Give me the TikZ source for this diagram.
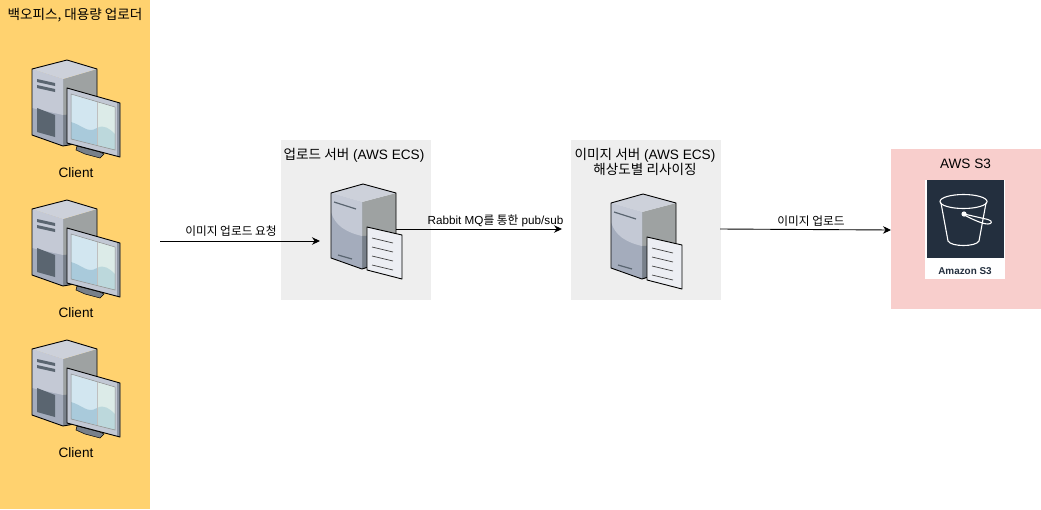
\documentclass[tikz,border=0pt]{standalone}
\usepackage{fontspec}
\setmainfont{Liberation Sans}
\newfontfamily\krfont{Noto Sans CJK KR}
\newcommand{\kr}[1]{{\krfont #1}}
\definecolor{orangebg}{HTML}{FFD26F}
\definecolor{graybg}{HTML}{EEEEEE}
\definecolor{pinkbg}{HTML}{F8CECC}
\definecolor{awsdark}{HTML}{232F3E}
\definecolor{towerlight}{HTML}{C4C9D5}
\definecolor{towermid}{HTML}{A4ACBC}
\definecolor{towerside}{HTML}{9EA2A2}
\definecolor{towersidedark}{HTML}{78808A}
\definecolor{slit}{HTML}{5A6570}
\definecolor{towertop}{HTML}{CDD1DA}
\definecolor{bezel}{HTML}{C2C8D4}
\definecolor{bezelside}{HTML}{8E96A4}
\definecolor{screenleft}{HTML}{D2E6F0}
\definecolor{screenright}{HTML}{DCEBE8}
\definecolor{screenwave}{HTML}{A9CADB}
\definecolor{screenwaveb}{HTML}{BCD8DC}
\definecolor{paper}{HTML}{ECEEF3}
\usetikzlibrary{arrows.meta}
\tikzset{
  x=1pt,y=-1pt,
  outline/.style={draw=black,line width=0.9pt,line join=round},
  caption/.style={font=\fontsize{13.6}{16}\selectfont,text=black,inner sep=0pt,align=center},
  edgelabel/.style={font=\fontsize{11.7}{13}\selectfont,text=black,inner sep=0pt},
  conn/.style={draw=black,line width=0.9pt,-{Stealth[length=8pt,width=7.5pt]}},
  clienticon/.pic={
    \fill[towerside] (63,79)--(97,69)--(97,140)--(63,146)--cycle;
    \fill[towersidedark] (63,115)--(97,112)--(97,140)--(63,146)--cycle;
    \fill[towermid] (32,69)--(63,79)--(63,146)--(32,135)--cycle;
    \fill[towerlight] (32,69)--(63,79)--(63,115)--(32,108)--cycle;
    \fill[towertop] (32,69)--(67,60)--(97,69)--(63,79)--cycle;
    \draw[outline] (32,69)--(67,60)--(97,69)--(97,140)--(63,146)--(32,135)--cycle;
    \fill[slit] (37,79)--(55,83)--(55,86)--(37,82)--cycle;
    \fill[slit] (37,85)--(55,89)--(55,92)--(37,88)--cycle;
    \fill[slit] (37,108)--(55,115)--(55,137)--(37,132)--cycle;
    \fill[towersidedark,draw=black,line width=0.5pt] (77,146)--(100,152)--(104,154)--(100,158)--(85,154)--(76,150)--cycle;
    \fill[bezel] (67,88)--(120,103)--(120,157)--(67,143)--cycle;
    \fill[bezelside] (117,102)--(120,103)--(120,157)--(117,156)--cycle;
    \draw[outline] (67,88)--(120,103)--(120,157)--(67,143)--cycle;
    \fill[screenright] (71,94)--(115,107)--(115,150)--(71,139)--cycle;
    \fill[screenleft] (71,94)--(97,102)--(97,145)--(71,139)--cycle;
    \fill[screenwave] (71,122) .. controls (82,125) and (88,134) .. (97,128) -- (97,145) -- (71,139) -- cycle;
    \fill[screenwaveb] (97,128) .. controls (104,124) and (110,129) .. (115,134) -- (115,150) -- (97,145) -- cycle;
    \draw[black!45,line width=0.5pt] (71,94)--(115,107)--(115,150)--(71,139)--cycle;
    \draw[black!25,line width=0.4pt] (97,102)--(97,145);
  },
  servericon/.pic={
    \fill[towerside] (362,202)--(396,193)--(396,258)--(362,269)--cycle;
    \fill[towersidedark] (362,236)--(396,234)--(396,258)--(362,269)--cycle;
    \fill[towermid] (331,193)--(362,202)--(362,269)--(331,258)--cycle;
    \fill[towerlight] (331,193)--(362,202)--(362,236) .. controls (345,232) and (335,225) .. (331,212) --cycle;
    \fill[towertop] (331,193)--(363,184)--(396,193)--(362,202)--cycle;
    \draw[outline] (331,193)--(363,184)--(396,193)--(396,258)--(362,269)--(331,258)--cycle;
    \draw[slit,line width=1.2pt] (334,202)--(356,209);
    \draw[slit,line width=1.2pt] (338,255)--(352,259);
    \draw[outline,fill=paper] (367,227)--(402,235)--(402,279)--(367,270)--cycle;
    \draw[black!75,line width=0.7pt] (372,238)--(393,243);
    \draw[black!75,line width=0.7pt] (372,247)--(393,252);
    \draw[black!75,line width=0.7pt] (372,256)--(393,261);
    \draw[black!75,line width=0.7pt] (372,265)--(393,270);
  }
}
\begin{document}
\begin{tikzpicture}
\useasboundingbox (0,0) rectangle (1041,509);
\fill[orangebg] (0,0) rectangle (150,509);
\fill[graybg] (281,140) rectangle (431,300);
\fill[graybg] (571,140) rectangle (721,300);
\fill[pinkbg] (891,149) rectangle (1041,309);

\node[caption] (backoffice) at (75,15.5) {\kr{백오피스, 대용량 업로더}};
\pic at (0,0) {clienticon};
\pic at (0,140) {clienticon};
\pic at (0,280) {clienticon};
\node[caption] (client1) at (76,173) {Client};
\node[caption] (client2) at (76,313) {Client};
\node[caption] (client3) at (76,453) {Client};

\node[caption] (uploadtitle) at (354,155) {\kr{업로드 서버} (AWS ECS)};
\pic at (0,0) {servericon};
\node[caption] (imagetitle) at (645,162) {\kr{이미지 서버} (AWS ECS)\\[-1pt]\kr{해상도별 리사이징}};
\pic at (280,10) {servericon};

\node[caption] (s3title) at (965.5,164) {AWS S3};
\fill[white] (925,180) rectangle (1005,279);
\fill[awsdark] (927,180) rectangle (1004,258);
\begin{scope}[draw=white,line width=1.1pt,line cap=round,line join=round]
  \draw (963.5,201.5) ellipse [x radius=23.5,y radius=7];
  \draw (941,203) -- (948,241) .. controls (951,247) and (976,247) .. (979,241) -- (986,203);
  \draw[fill=white] (964,214) circle (2);
  \draw (964,214) -- (988,219.5) .. controls (993,221) and (992,224) .. (988,224) .. controls (982,224) and (972,219) .. (964,215);
\end{scope}
\node[font=\fontsize{9.9}{11}\selectfont\bfseries,text=awsdark,inner sep=0pt] (s3label) at (965,271) {Amazon S3};

\coordinate (clientout) at (160,241);
\coordinate (uploadin) at (320,241);
\coordinate (uploadout) at (396,229);
\coordinate (imagein) at (562,229);
\coordinate (imageout) at (720,229);
\coordinate (s3in) at (891,230);
\draw[conn] (clientout) -- (uploadin);
\draw[conn] (uploadout) -- (imagein);
\draw[conn] (imageout) -- (s3in);
\node[edgelabel] (label1) at (231,231) {\kr{이미지 업로드 요청}};
\node[edgelabel] (label2) at (495.5,220.5) {Rabbit MQ\kr{를 통한} pub/sub};
\node[edgelabel] (label3) at (811,221) {\kr{이미지 업로드}};
\end{tikzpicture}
\end{document}
